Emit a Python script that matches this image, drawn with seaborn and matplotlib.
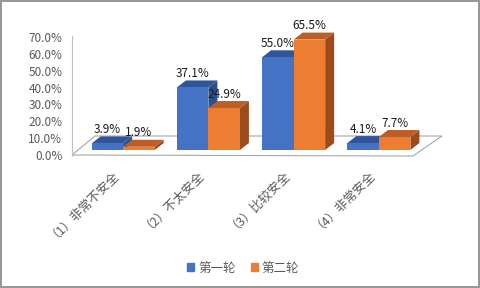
import numpy as np
import pandas as pd
import matplotlib
matplotlib.use("Agg")
import matplotlib.pyplot as plt
import seaborn as sns
from matplotlib.patches import Polygon, Rectangle
from matplotlib.lines import Line2D
from matplotlib.transforms import ScaledTranslation, IdentityTransform

# ---- data ----
categories = ['（1）非常不安全', '（2）不太安全', '（3）比较安全', '（4）非常安全']
series_names = ['第一轮', '第二轮']
round1 = [3.9, 37.1, 55.0, 4.1]
round2 = [1.9, 24.9, 65.5, 7.7]
yticks = [0, 10, 20, 30, 40, 50, 60, 70]

front_colors = ['#4472C4', '#ED7D31']
top_colors = ['#30559A', '#BD5F25']
side_colors = ['#2C4F8E', '#9C4C1C']

sns.set_style('white')
plt.rcParams['font.family'] = ['Noto Sans CJK SC', 'DejaVu Sans']

W, H = 480, 288
fig = plt.figure(figsize=(W / 100, H / 100), dpi=100)
ax = fig.add_axes([72 / W, (H - 150) / H, 358 / W, 118 / H])

df = pd.DataFrame({
    'cat': categories * 2,
    'series': [s for s in series_names for _ in categories],
    'value': round1 + round2,
})
sns.barplot(data=df, x='cat', y='value', hue='series', palette=front_colors,
            width=0.74, gap=0, saturation=1, linewidth=0, errorbar=None,
            legend=False, ax=ax)

ax.set_xlim(-0.6, 3.6)
ax.set_ylim(0, 70)
ax.set_xlabel('')
ax.set_ylabel('')
for s in ax.spines.values():
    s.set_visible(False)

def disp(x, y):
    return ax.transData.transform((x, y))

DX, DY = 9, 7
idT = IdentityTransform()

# floor
x0d, y0d = disp(-0.6, 0)
x1d, _ = disp(3.4, 0)
floor = Polygon([(x0d, y0d - 5), (x1d, y0d - 6), (x1d + 29, y0d + 14), (x0d + 23, y0d + 14)],
                closed=True, transform=idT, facecolor='white', edgecolor='#a6a6a6',
                lw=0.8, zorder=1, clip_on=False)
ax.add_patch(floor)
# vertical axis line
_, ytop = disp(0, 70)
ax.add_artist(Line2D([x0d, x0d], [y0d - 6, ytop - 4], transform=idT, color='#bfbfbf',
                     lw=0.8, zorder=1, clip_on=False))

# 3D faces and labels
for hi, cont in enumerate(ax.containers):
    for bar in cont:
        bx = bar.get_x()
        bw = bar.get_width()
        bh = bar.get_height()
        ci = int(round(bx + bw / 2 - (hi - 0.5) * bw))
        k = ci * 2 + hi
        z = 3 + k * 0.1
        X0, Y0 = disp(bx, 0)
        X1, Y1 = disp(bx + bw, bh)
        side = Polygon([(X1, Y0), (X1 + DX, Y0 + DY), (X1 + DX, Y1 + DY), (X1, Y1)],
                       closed=True, transform=idT, facecolor=side_colors[hi],
                       edgecolor='none', zorder=z, clip_on=False)
        top = Polygon([(X0, Y1), (X1, Y1), (X1 + DX, Y1 + DY), (X0 + DX, Y1 + DY)],
                      closed=True, transform=idT, facecolor=top_colors[hi],
                      edgecolor='none', zorder=z + 0.01, clip_on=False)
        ax.add_patch(side)
        ax.add_patch(top)
        bar.set_zorder(z + 0.02)
        bar.set_clip_on(False)
        ax.annotate(f'{bh:.1f}%', xy=(bx + bw / 2, bh), xytext=(0, 10),
                    textcoords='offset points', ha='center', va='center',
                    fontsize=8.5, color='#1a1a1a', zorder=10)

# ticks
ax.set_yticks(yticks, [f'{t:.1f}%' for t in yticks])
ax.tick_params(axis='y', length=0, pad=7, labelsize=8.5, labelcolor='#595959')
ax.set_xticks(range(len(categories)), categories)
ax.tick_params(axis='x', length=0, pad=0, labelsize=9, labelcolor='#595959')
for lab in ax.get_xticklabels():
    lab.set_rotation(45)
    lab.set_ha('right')
    lab.set_va('center')
    lab.set_rotation_mode('anchor')
    lab.set_transform(lab.get_transform() + ScaledTranslation(-0.08, -0.19, fig.dpi_scale_trans))
for lab in ax.get_yticklabels():
    lab.set_transform(lab.get_transform() + ScaledTranslation(0, -0.05, fig.dpi_scale_trans))

# legend
handles = [Rectangle((0, 0), 1, 1, color=c) for c in front_colors]
leg = fig.legend(handles, series_names, loc='center', bbox_to_anchor=(243 / W, 1 - 268 / H),
                 ncol=2, frameon=False, fontsize=9, handlelength=0.6, handleheight=0.6,
                 handletextpad=0.3, columnspacing=1.2)
for t in leg.get_texts():
    t.set_color('#595959')

# border
fig.add_artist(Rectangle((1, 1), W - 2.5, H - 2, transform=idT, fill=False,
                         edgecolor='#8c8c8c', lw=1.3))

fig.savefig('out.png', dpi=100)
